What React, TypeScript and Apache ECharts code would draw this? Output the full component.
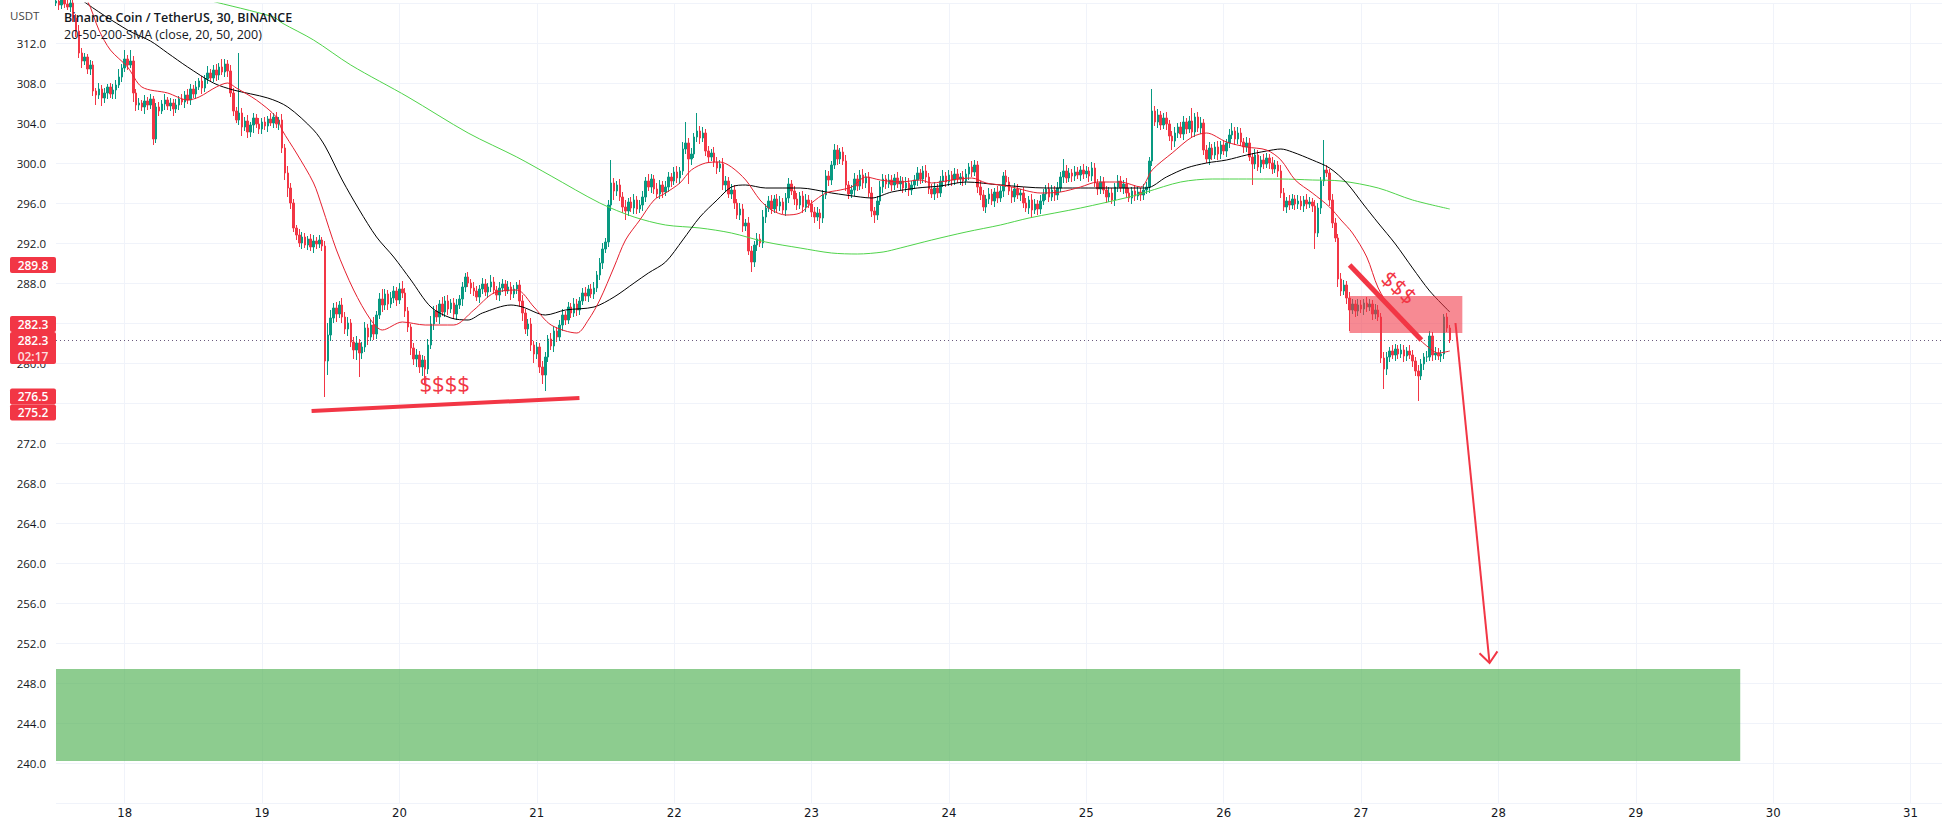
import React, { useEffect, useRef } from 'react';
import * as echarts from 'echarts';

const FONT = '"Open Sans", "Noto Sans", Roboto, sans-serif';
const AXIS_FONT = '"Liberation Sans Narrow", "DejaVu Sans Condensed", "Open Sans", sans-serif';

// ---- time axis: 30-minute slots, slot 0 = 17th 12:00 ----
const DAY_LABELS = ['18', '19', '20', '21', '22', '23', '24', '25', '26', '27', '28', '29', '30', '31'];
const SLOTS_PER_DAY = 48;
const FIRST_DAY_SLOT = 24;
const TOTAL_SLOTS = 660;

// ---- price axis ----
const Y_MIN = 236;
const Y_MAX = 316;
const Y_STEP = 4;

// ---- candles (30m) ----
const FIRST_OPEN = 316.0;
const closes = [
  // 17th 12:00 - 23:30
  316.2, 315.8, 316.4, 315.9, 315.6, 316.0, 314.5, 313.2, 311.0, 310.2, 310.6, 309.4, 309.8, 307.2, 306.8, 307.4, 306.5, 307.0, 307.6, 306.9, 307.3, 307.8, 308.6, 309.5,
  // 18th
  310.4, 309.8, 310.2, 307.0, 305.8, 306.0, 305.6, 306.2, 305.8, 306.4, 302.4, 305.6, 305.2, 305.9, 306.3, 305.7, 306.0, 305.4, 305.8, 306.4, 306.1, 306.8, 306.3, 307.4, 306.9, 307.6, 308.2, 307.5, 308.4, 309.0, 308.5, 309.3, 308.8, 309.6, 309.1, 309.9, 309.2, 307.0, 305.2, 304.3, 305.0, 303.6, 304.2, 303.1, 303.8, 304.5, 303.9, 303.4,
  // 19th
  304.1, 303.7, 304.4, 304.0, 304.6, 303.9, 304.3, 301.5, 299.0, 297.5, 296.0, 293.5, 292.8, 292.0, 292.6, 291.8, 292.4, 291.6, 292.2, 291.9, 292.3, 291.7, 280.2, 282.8, 284.5, 285.5, 284.9, 285.8, 284.6, 283.4, 284.0, 282.1, 281.3, 282.0, 281.0, 281.6, 283.5, 282.6, 283.8, 282.9, 284.8, 286.4, 285.8, 286.9, 285.9, 286.5, 287.2, 286.3,
  // 20th
  287.4, 287.0, 285.2, 283.6, 281.5, 280.4, 280.8, 279.6, 280.3, 279.4, 281.8, 283.9, 285.2, 284.6, 285.9, 285.1, 286.2, 285.4, 286.0, 284.9, 285.8, 286.4, 287.6, 288.6, 288.0, 287.5, 287.2, 286.6, 287.4, 287.9, 287.1, 287.6, 288.1, 287.3, 286.8, 287.5, 287.9, 287.2, 287.6, 286.9, 287.4, 287.8, 286.2, 285.0, 283.4, 283.9, 281.8, 280.9,
  // 21st
  281.6, 279.6, 278.8, 280.6, 282.4, 281.7, 283.2, 282.6, 283.8, 284.8, 284.3, 285.6, 285.0, 285.9, 285.3, 286.2, 287.0, 286.7, 287.4, 286.9, 287.5, 288.8, 290.0, 291.4, 292.1, 295.8, 298.0, 297.2, 297.8, 296.6, 295.6, 295.2, 296.1, 295.5, 296.3, 295.4, 295.8, 296.6, 298.2, 297.6, 298.4, 297.4, 296.9, 297.8, 297.1, 297.6, 298.6, 298.2,
  // 22nd
  299.1, 298.5, 299.2, 301.4, 302.0, 300.4, 300.9, 302.6, 303.2, 302.5, 303.0, 301.2, 300.6, 301.0, 300.1, 299.5, 299.9, 297.8, 298.2, 296.9, 297.3, 296.0, 294.8, 295.4, 293.7, 294.0, 291.2, 290.1, 291.8, 292.4, 292.0, 294.6, 295.5, 296.2, 295.4, 296.4, 295.7, 296.1, 295.3, 296.5, 297.9, 297.2, 296.4, 295.8, 296.7, 295.6, 296.3, 295.9,
  // 23rd
  295.1, 294.6, 295.0, 294.5, 296.8, 298.7, 298.3, 299.8, 301.3, 300.4, 301.1, 300.2, 297.8, 296.9, 297.3, 298.4, 297.7, 298.8, 298.0, 298.6, 297.0, 295.2, 294.8, 296.2, 297.6, 298.4, 297.9, 298.3, 297.8, 298.5, 297.9, 298.2, 297.5, 298.0, 297.3, 297.8, 298.3, 299.0, 298.4, 299.2, 298.6, 297.4, 296.9, 297.5, 297.0, 298.2, 298.7, 298.1,
  // 24th
  298.8, 298.3, 298.9, 298.4, 298.6, 298.2, 298.9, 299.6, 299.1, 299.8, 297.6, 296.8, 295.6, 296.4, 296.9, 296.2, 297.1, 296.5, 297.2, 298.7, 298.1, 297.2, 296.6, 297.4, 296.8, 297.0, 296.0, 295.5, 296.3, 295.3, 295.9, 295.4, 296.2, 296.9, 297.4, 296.6, 297.3, 296.8, 297.5, 298.6, 299.2, 298.5, 299.0, 298.7, 299.1, 298.8, 299.3, 298.9,
  // 25th
  299.2, 298.7, 299.5, 298.0, 297.4, 298.1, 297.3, 296.6, 297.0, 296.3, 297.6, 298.2, 297.5, 297.9, 297.0, 296.5, 297.2, 296.7, 297.1, 296.8, 297.3, 297.6, 300.2, 305.2, 304.1, 304.8, 303.8, 304.5, 303.9, 302.7, 302.2, 303.0, 303.6, 302.9, 304.1, 303.4, 304.2, 303.1, 304.6, 303.5, 304.0, 301.3, 300.4, 301.5, 300.8, 301.6, 300.9, 301.8,
  // 26th
  301.2, 302.0, 302.8, 303.2, 302.4, 303.0, 302.1, 301.6, 302.0, 300.6, 299.9, 300.8, 299.6, 300.3, 299.9, 300.5, 300.0, 299.4, 299.8, 299.2, 297.0, 295.6, 296.2, 295.8, 296.4, 295.9, 296.2, 295.7, 296.3, 295.9, 296.1, 295.7, 293.0, 295.5, 298.2, 299.3, 299.0, 296.3, 294.0, 292.5, 288.4, 287.2, 287.8, 286.5, 285.3, 285.9, 285.2, 285.8,
  // 27th
  285.4, 286.0, 285.6, 285.9, 284.9, 285.3, 284.6, 280.5, 279.4, 280.6, 281.2, 280.8, 281.4, 280.9, 281.3, 280.7, 281.2, 280.8, 280.2, 279.2, 278.7, 279.9, 280.6, 280.6, 282.7, 280.8, 281.0, 280.7, 280.9, 284.6, 283.5, 282.3,
];
// wick length above the body / below the body
const upperWicks = [
  .4, .3, .5, .3, .4, .6, .5, .4, .6, .5, .4, .3, .5, .4, .3, .6, .4, .5, .3, .4, .6, .5, .8, .4,
  .9, .4, 1.1, .5, .4, .5, .3, .6, .4, .5, .3, .4, .5, .4, .6, .3, .5, .4, .6, .3, .5, .4, .6, .5, .4, .6, .3, .5, .4, .7, .4, .5, .6, .4, .8, .5, .4, .6, .5, .4, 6.0, .5, .4, .6, .3, .5, .4, .6,
  .4, .5, .3, .6, .4, .5, .3, .6, .4, .7, .5, .4, .3, .6, .5, .4, .3, .5, .6, .4, .5, .3, .5, 1.2, .8, .5, .6, .4, .7, .5, .6, .4, .5, .7, .4, .5, .6, .4, .5, .8, .4, .6, 1.0, .5, .4, .6, .5, .4,
  .6, .8, .5, .4, .3, .5, .6, .4, .5, .4, .6, .8, .5, .6, .4, .7, .5, .6, .4, .5, .6, .4, .5, .4, .5, .4, .6, .5, .4, .6, .5, .4, .7, .5, .4, .6, .5, .4, .6, .5, .4, .3, .5, .6, .4, .5, .6, .4,
  .5, .4, .6, .5, .4, .6, .5, .4, .5, .6, .4, .5, .4, .6, .5, .4, .5, .6, .4, .5, .6, .4, .5, .6, .4, .5, 2.3, .5, .4, .6, .5, .7, .4, .5, .6, .4, .5, .6, .4, .7, .5, .4, .6, .5, .4, .6, .5, .4,
  .5, .6, .4, .7, 2.1, .5, .6, .4, 1.8, .5, .6, .4, .5, .4, .6, .5, .4, .6, .5, .4, .6, .5, .4, .6, .5, .4, .6, .5, .4, .6, .5, .7, .4, .5, .6, .4, .5, .6, .4, .5, .6, .4, .5, .6, .4, .5, .6, .5,
  .4, .5, .6, .4, .5, .6, .5, .4, .6, .5, .4, .5, .6, .4, .5, .6, .4, .5, .6, .4, .5, .6, .4, .5, .6, .5, .4, .6, .5, .4, .6, .5, .4, .6, .5, .4, .5, .6, .4, .5, .6, .4, .5, .6, .4, .5, .6, .4,
  .5, .4, .6, .5, .4, .6, .5, .4, .6, .5, .4, .6, .5, .4, .6, .5, .4, .6, .5, .4, .6, .5, .4, .6, .5, .4, .6, .5, .4, .6, .5, .4, .6, .5, .4, .6, .5, .4, .6, .5, 1.2, .6, .5, .4, .6, .5, .4, .6,
  .5, .4, .6, .5, .4, .6, .5, .4, .6, .5, .4, .6, .5, .4, .6, .5, .4, .6, .5, .4, .6, .5, .4, 2.2, .5, .6, .4, .5, .6, .4, .5, .6, .4, .5, .6, .4, .5, 1.3, .4, .5, .6, .4, .5, .6, .4, .5, .6, .4,
  .5, .4, .6, .8, .4, .6, .5, .4, .6, .5, .4, .6, .5, .4, .6, .5, .4, .6, .5, .4, .6, .5, .4, .6, .5, .4, .6, .5, .4, .6, .5, .4, .6, .5, .4, 3.0, .5, .4, .6, .5, .4, .6, .5, .4, .6, .5, .4, .6,
  .5, .4, .6, .5, .4, .6, .5, .4, .6, .5, .4, .6, .5, .4, .6, .5, .4, .6, .5, .4, .6, .5, .4, .6, .5, .4, .6, .5, .4, .3, .4, .3,
];
const lowerWicks = [
  .3, .5, .4, .4, .3, .5, .4, .6, .5, .7, .4, .5, .6, .5, 1.0, .4, .8, .5, .6, .4, .5, .9, .3, .5,
  .4, .5, .3, .9, .6, .5, .4, .7, .5, .4, .6, .4, .5, .3, .6, .4, .5, .7, .4, .5, .3, .6, .4, .5, .4, .5, .3, .6, .4, .5, .3, .4, .6, .5, .3, .5, .6, .4, .5, .3, .5, .9, .4, .6, .5, .8, .4, .5,
  .5, .4, .6, .3, .5, .4, .6, .5, .7, .9, .6, .4, .5, .4, .6, .3, .5, .4, .6, .5, .4, .5, 3.6, 1.4, .6, .5, .8, .4, .6, .5, .7, .5, .9, 1.0, 2.4, .6, .5, .8, .4, .6, .5, .4, .7, .5, .6, .4, .5, .6,
  .4, .5, .6, .5, .7, .6, .8, .6, .9, 1.5, .5, .4, .6, .5, .7, .4, .5, .6, .4, .5, .6, .4, .7, .5, .4, .6, .5, .4, .6, .5, .4, .6, .5, .4, .5, .6, .4, .5, .3, .6, .4, .5, .6, .8, .5, .7, .6, .9,
  .5, .6, .9, 1.6, .5, .4, .6, .5, .4, .6, .5, .4, .5, .4, .6, .5, .4, .5, .6, .4, .5, .4, .5, .6, .4, .5, .6, .9, .5, .4, .6, .9, .5, .4, .6, .5, .4, .6, .5, .4, .6, .5, .4, .5, .6, .4, .5, .6,
  .4, .5, .6, .4, .5, 2.5, .6, .4, .5, .6, .4, .5, .6, .4, .5, .6, .4, .5, .6, .4, .5, .6, .4, .5, .6, .5, .4, 1.0, .5, .6, .4, .5, .6, .4, .5, .4, .6, .5, .4, .6, .5, .4, .6, .5, .4, .6, .5, .4,
  .5, .6, .4, 1.1, .5, .4, .6, .5, .4, .6, .5, .4, .6, .5, .4, .6, .5, .4, .6, .5, .4, .6, .8, .5, .4, .6, .5, .4, .6, .5, .4, .6, .5, .4, .6, .5, .4, .6, .5, .4, .6, .5, .4, .6, .5, .4, .6, .5,
  .4, .6, .5, .4, .6, .5, .4, .6, .5, .4, .6, .5, .4, .6, .5, .4, .6, .5, .4, .6, .5, .4, .6, .5, .4, .6, .5, .4, .6, .7, .4, .6, .5, .4, .6, .5, .4, .6, .5, .4, .6, .5, .4, .6, .5, .4, .6, .5,
  .4, .6, .5, .4, .6, .5, .4, .6, .5, .4, .6, .5, .4, .6, .5, .4, .6, .5, .4, .6, .5, .4, .6, .5, .4, .6, .5, .4, .6, .5, .9, .6, .5, .4, .6, .5, .4, .6, .5, .4, .6, .5, .4, .6, .5, .4, .6, .5,
  .4, .6, .5, .4, .6, .5, .4, .6, .5, .4, 2.1, .5, .4, .6, .5, .4, .6, .5, .4, .6, .5, .4, .6, .5, .4, .6, .5, .4, .6, .5, .4, .6, 1.6, .4, .6, .5, .4, .6, .5, .4, .8, .5, .4, .6, 2.1, .4, .6, .5,
  .4, .6, .5, .4, .6, .5, .4, .5, 2.0, .6, .5, .4, .6, .5, .4, .6, .5, .4, .6, .5, 2.5, .4, .6, .5, .4, .6, .5, .4, .6, .5, .4, .3,
];

// ---- moving averages, [slot, value] ----
const sma20 = [
  [6, 318.0], [11, 316.2], [15, 313.3], [19, 311.3], [25, 309.6], [30, 307.6], [39, 307.0], [46, 306.3], [50, 306.6], [56, 307.6], [60, 308.0], [63, 307.5], [70, 306.3], [77, 304.6], [79, 303.3], [84, 301.0], [90, 298.0], [93, 295.6], [98, 291.3], [104, 287.3], [110, 284.3], [114, 283.3], [121, 284.1], [129, 283.8], [139, 283.8], [146, 285.3], [153, 287.0], [161, 287.3], [167, 285.6], [173, 283.8], [182, 283.0], [186, 284.3], [190, 286.3], [195, 289.6], [199, 292.3], [204, 294.3], [209, 296.3], [213, 297.0], [218, 298.0], [222, 299.3], [227, 300.0], [232, 300.1], [236, 299.6], [241, 298.3], [246, 296.3], [250, 295.3], [255, 294.8], [260, 295.0], [264, 296.0], [269, 297.0], [274, 297.3], [278, 297.6], [283, 298.6], [288, 298.3], [295, 298.1], [302, 298.3], [306, 298.0], [313, 298.3], [320, 298.5], [325, 298.0], [330, 297.8], [334, 297.6], [344, 297.0], [351, 297.1], [358, 297.6], [364, 298.1], [372, 298.1], [379, 297.6], [383, 299.3], [390, 301.0], [397, 302.6], [402, 303.0], [409, 302.1], [416, 301.6], [423, 301.3], [428, 300.3], [433, 298.3], [439, 297.0], [445, 295.6], [449, 294.3], [453, 293.0], [458, 290.6], [462, 287.5], [467, 285.2], [473, 283.3], [479, 281.7], [483, 281.0], [487, 281.2],
];
const sma50 = [
  [0, 318.6], [9, 316.3], [25, 313.3], [33, 312.2], [39, 311.0], [46, 309.6], [55, 308.0], [62, 307.3], [74, 306.5], [81, 305.6], [90, 303.3], [94, 301.7], [100, 298.3], [106, 295.3], [112, 292.6], [118, 290.6], [124, 288.3], [131, 285.6], [138, 284.5], [144, 284.3], [149, 285.0], [159, 285.8], [163, 285.6], [171, 284.8], [178, 285.3], [188, 285.6], [195, 286.6], [202, 288.0], [207, 289.0], [213, 290.1], [219, 292.3], [225, 294.6], [231, 296.3], [236, 297.6], [241, 297.8], [248, 297.5], [260, 297.5], [271, 297.0], [281, 296.6], [285, 296.5], [292, 297.1], [301, 297.5], [309, 297.7], [318, 298.1], [330, 297.8], [346, 297.5], [358, 297.5], [369, 297.5], [381, 297.5], [388, 298.6], [395, 299.5], [402, 300.0], [409, 300.3], [416, 300.8], [423, 301.2], [428, 301.4], [432, 301.1], [439, 300.3], [445, 299.5], [451, 298.0], [457, 295.8], [462, 294.0], [468, 291.9], [474, 289.5], [480, 287.2], [487, 285.1],
];
const sma200 = [
  [50, 316.6], [53, 316.3], [76, 314.6], [79, 314.0], [90, 312.3], [103, 309.8], [123, 306.6], [144, 303.0], [161, 300.6], [173, 298.7], [190, 296.0], [202, 294.6], [213, 293.8], [225, 293.5], [236, 293.0], [248, 292.1], [260, 291.5], [271, 291.0], [280, 290.9], [289, 291.1], [295, 291.5], [306, 292.3], [318, 293.1], [330, 293.8], [340, 294.5], [358, 295.5], [375, 296.6], [381, 297.1], [393, 298.1], [404, 298.4], [416, 298.4], [428, 298.4], [439, 298.3], [449, 298.2], [462, 297.5], [474, 296.3], [487, 295.4],
];

// ---- drawings, in [slot, price] ----
const LAST_PRICE = 282.3;
const COUNTDOWN = '02:17';
const supportLine = [[89.3, 275.2], [182.9, 276.5]];
const breakLine = [[452, 289.8], [477.1, 282.3]];
const resistanceBox = [[452, 286.7], [491.4, 283.0]];
const targetZone = [[0, 249.4], [588.5, 240.2]];
const arrowPath = [[489, 284.0], [500.9, 250.0]];
const lowsText = { slot: 135.8, price: 278.0, text: '$$$$' };
const highsText = { slot: 469.4, price: 287.6, text: '$$$' };
const drawingTags = [289.8, 282.3, 276.5, 275.2];

const UP = '#089981';
const DOWN = '#f23645';
const DRAW_RED = '#f23645';

const slotNames = Array.from({ length: TOTAL_SLOTS }, (_, i) =>
  i >= FIRST_DAY_SLOT && (i - FIRST_DAY_SLOT) % SLOTS_PER_DAY === 0
    ? DAY_LABELS[(i - FIRST_DAY_SLOT) / SLOTS_PER_DAY] ?? ''
    : ''
);

const candles = closes.map((c, i) => {
  const o = i === 0 ? FIRST_OPEN : closes[i - 1];
  const hi = Math.max(o, c) + (upperWicks[i] ?? 0.4);
  const lo = Math.min(o, c) - (lowerWicks[i] ?? 0.4);
  return [o, c, +lo.toFixed(2), +hi.toFixed(2)];
});

const showDay = (_i: number, v: string) => v !== '';

function buildOption(): any {
  return {
    animation: false,
    backgroundColor: '#ffffff',
    grid: { left: 56, right: 0, top: 3, bottom: 18, containLabel: false },
    xAxis: [
      {
        type: 'category',
        data: slotNames,
        boundaryGap: false,
        axisLine: { show: false },
        axisTick: { show: false },
        axisLabel: {
          interval: showDay,
          margin: 3,
          color: '#131722',
          fontSize: 13,
          fontFamily: AXIS_FONT,
        },
        splitLine: { show: true, interval: showDay, lineStyle: { color: '#f0f3fa', width: 1 } },
      },
      { type: 'value', min: 0, max: TOTAL_SLOTS - 1, show: false },
    ],
    yAxis: {
      type: 'value',
      position: 'left',
      min: Y_MIN,
      max: Y_MAX,
      interval: Y_STEP,
      axisLine: { show: false },
      axisTick: { show: false },
      axisLabel: {
        formatter: (v: number) => v.toFixed(1),
        showMinLabel: false,
        showMaxLabel: false,
        margin: 10,
        color: '#131722',
        fontSize: 11.5,
        fontFamily: FONT,
      },
      splitLine: { lineStyle: { color: '#f0f3fa', width: 1 } },
    },
    series: [
      {
        type: 'candlestick',
        xAxisIndex: 0,
        yAxisIndex: 0,
        data: candles,
        barWidth: 2,
        z: 2,
        itemStyle: { color: UP, color0: DOWN, borderColor: UP, borderColor0: DOWN, borderWidth: 1 },
        markLine: {
          silent: true,
          symbol: ['none', 'none'],
          label: { show: false },
          lineStyle: { type: [1, 3], color: '#6b5a7e', width: 1 },
          data: [{ yAxis: LAST_PRICE }],
        },
      },
      {
        type: 'line', xAxisIndex: 1, yAxisIndex: 0, data: sma200, showSymbol: false, symbol: 'none',
        smooth: 0.3, silent: true, z: 3, lineStyle: { color: '#4fd34a', width: 1 },
      },
      {
        type: 'line', xAxisIndex: 1, yAxisIndex: 0, data: sma50, showSymbol: false, symbol: 'none',
        smooth: 0.3, silent: true, z: 3, lineStyle: { color: '#000000', width: 1 },
      },
      {
        type: 'line', xAxisIndex: 1, yAxisIndex: 0, data: sma20, showSymbol: false, symbol: 'none',
        smooth: 0.3, silent: true, z: 3, lineStyle: { color: '#e5202f', width: 1 },
      },
    ],
  };
}

function buildGraphics(chart: echarts.ECharts): { els: any[]; boxes: number[][] } {
  const px = (x: number) => chart.convertToPixel({ xAxisIndex: 1 } as any, x) as unknown as number;
  const py = (y: number) => chart.convertToPixel({ yAxisIndex: 0 } as any, y) as unknown as number;
  const els: any[] = [];
  const boxes: number[][] = [];

  // target zone
  {
    const x0 = px(targetZone[0][0]);
    const x1 = px(targetZone[1][0]);
    const y0 = py(targetZone[0][1]);
    const y1 = py(targetZone[1][1]);
    els.push({ type: 'rect', z: 1, silent: true, shape: { x: x0, y: y0, width: x1 - x0, height: y1 - y0 }, style: { fill: 'rgba(76,175,80,0.64)' } });
  }
  // resistance box
  {
    const x0 = px(resistanceBox[0][0]);
    const x1 = px(resistanceBox[1][0]);
    const y0 = py(resistanceBox[0][1]);
    const y1 = py(resistanceBox[1][1]);
    els.push({ type: 'rect', z: 5, silent: true, shape: { x: x0, y: y0, width: x1 - x0, height: y1 - y0 }, style: { fill: 'rgba(242,54,69,0.58)' } });
  }
  // trend lines
  const seg = (pts: number[][], w: number) => ({
    type: 'line', z: 6, silent: true,
    shape: { x1: px(pts[0][0]), y1: py(pts[0][1]), x2: px(pts[1][0]), y2: py(pts[1][1]) },
    style: { stroke: DRAW_RED, lineWidth: w, lineCap: 'butt' },
  });
  els.push(seg(supportLine, 4));
  els.push(seg(breakLine, 5));
  // arrow
  {
    const ax1 = px(arrowPath[0][0]);
    const ay1 = py(arrowPath[0][1]);
    const ax2 = px(arrowPath[1][0]);
    const ay2 = py(arrowPath[1][1]);
    els.push({ type: 'line', z: 6, silent: true, shape: { x1: ax1, y1: ay1, x2: ax2, y2: ay2 }, style: { stroke: DRAW_RED, lineWidth: 2 } });
    const ang = Math.atan2(ay2 - ay1, ax2 - ax1);
    const L = 14;
    const a = (40 * Math.PI) / 180;
    const p1 = [ax2 - L * Math.cos(ang - a), ay2 - L * Math.sin(ang - a)];
    const p2 = [ax2 - L * Math.cos(ang + a), ay2 - L * Math.sin(ang + a)];
    els.push({ type: 'polyline', z: 6, silent: true, shape: { points: [p1, [ax2, ay2], p2] }, style: { stroke: DRAW_RED, lineWidth: 2, fill: null } });
  }
  // $ texts
  els.push({
    type: 'text', z: 6, silent: true, x: px(lowsText.slot), y: py(lowsText.price),
    style: { text: lowsText.text, fill: DRAW_RED, font: `22px ${FONT}`, textAlign: 'center', textVerticalAlign: 'middle' },
  });
  els.push({
    type: 'text', z: 6, silent: true, x: px(highsText.slot), y: py(highsText.price), rotation: -0.72,
    style: { text: highsText.text, fill: DRAW_RED, font: `22px ${FONT}`, textAlign: 'center', textVerticalAlign: 'middle' },
  });

  // legend texts
  els.push({ type: 'text', z: 10, silent: true, x: 64, y: 17, style: { text: 'Binance Coin / TetherUS, 30, BINANCE', fill: '#131722', font: `600 12.5px ${FONT}`, textVerticalAlign: 'middle' } });
  els.push({ type: 'text', z: 10, silent: true, x: 64, y: 34, style: { text: '20-50-200-SMA (close, 20, 50, 200)', fill: '#131722', font: `12.5px ${FONT}`, textVerticalAlign: 'middle' } });
  els.push({ type: 'text', z: 10, silent: true, x: 10, y: 15, style: { text: 'USDT', fill: '#444', font: `11.5px ${FONT}`, textVerticalAlign: 'middle' } });

  // price tags on the scale
  const LINE_H = 16;
  type Item = { price: number; lines: string[]; fixed: boolean; h: number; want: number };
  const items: Item[] = [
    ...drawingTags.map((p) => ({ price: p, lines: [p.toFixed(1)], fixed: false })),
    { price: LAST_PRICE, lines: [LAST_PRICE.toFixed(1), COUNTDOWN], fixed: true },
  ].map((t) => ({ ...t, h: t.lines.length * LINE_H, want: py(t.price) - LINE_H / 2 }));
  items.sort((a, b) => a.want - b.want || (a.fixed ? 1 : 0) - (b.fixed ? 1 : 0));
  type Cluster = { items: Item[]; top: number; h: number };
  const place = (its: Item[]): Cluster => {
    let off = 0;
    const offs: number[] = [];
    its.forEach((it) => { offs.push(off); off += it.h; });
    const fi = its.findIndex((it) => it.fixed);
    let top: number;
    if (fi >= 0) top = its[fi].want - offs[fi];
    else top = its.reduce((s, it, k) => s + (it.want - offs[k]), 0) / its.length;
    return { items: its, top, h: off };
  };
  const clusters: Cluster[] = items.map((it) => place([it]));
  let merged = true;
  while (merged) {
    merged = false;
    for (let i = 0; i < clusters.length - 1; i++) {
      const a = clusters[i];
      const b = clusters[i + 1];
      if (a.top + a.h > b.top) {
        clusters.splice(i, 2, place([...a.items, ...b.items]));
        merged = true;
        break;
      }
    }
  }
  clusters.forEach((c) => {
    boxes.push([c.top, c.top + c.h]);
    let y = c.top;
    c.items.forEach((it) => {
      els.push({ type: 'rect', z: 10, silent: true, shape: { x: 10, y, width: 46, height: it.h, r: 2 }, style: { fill: '#f23645' } });
      it.lines.forEach((ln, k) => {
        els.push({
          type: 'text', z: 11, silent: true, x: 33, y: y + LINE_H / 2 + k * LINE_H,
          style: { text: ln, fill: k === 0 ? '#ffffff' : 'rgba(255,255,255,0.85)', font: `600 12px ${FONT}`, textAlign: 'center', textVerticalAlign: 'middle' },
        });
      });
      y += it.h;
    });
  });

  return { els, boxes };
}

export default function App() {
  const ref = useRef<HTMLDivElement>(null);
  useEffect(() => {
    const el = ref.current;
    if (!el) return;
    const chart = echarts.init(el, undefined, { renderer: 'svg' });
    chart.setOption(buildOption());
    const { els, boxes } = buildGraphics(chart);
    const py = (y: number) => chart.convertToPixel({ yAxisIndex: 0 } as any, y) as unknown as number;
    chart.setOption({
      graphic: els,
      yAxis: {
        axisLabel: {
          // scale values hidden behind a price tag, as on the original price scale
          formatter: (v: number) => {
            const y = py(v);
            return boxes.some(([t, b]) => y > t + 2 && y < b - 2) ? '' : v.toFixed(1);
          },
        },
      },
    });
    return () => chart.dispose();
  }, []);
  return (
    <div
      ref={ref}
      style={{ position: 'fixed', left: 0, top: 0, width: 1942, height: 821, background: '#ffffff' }}
    />
  );
}
